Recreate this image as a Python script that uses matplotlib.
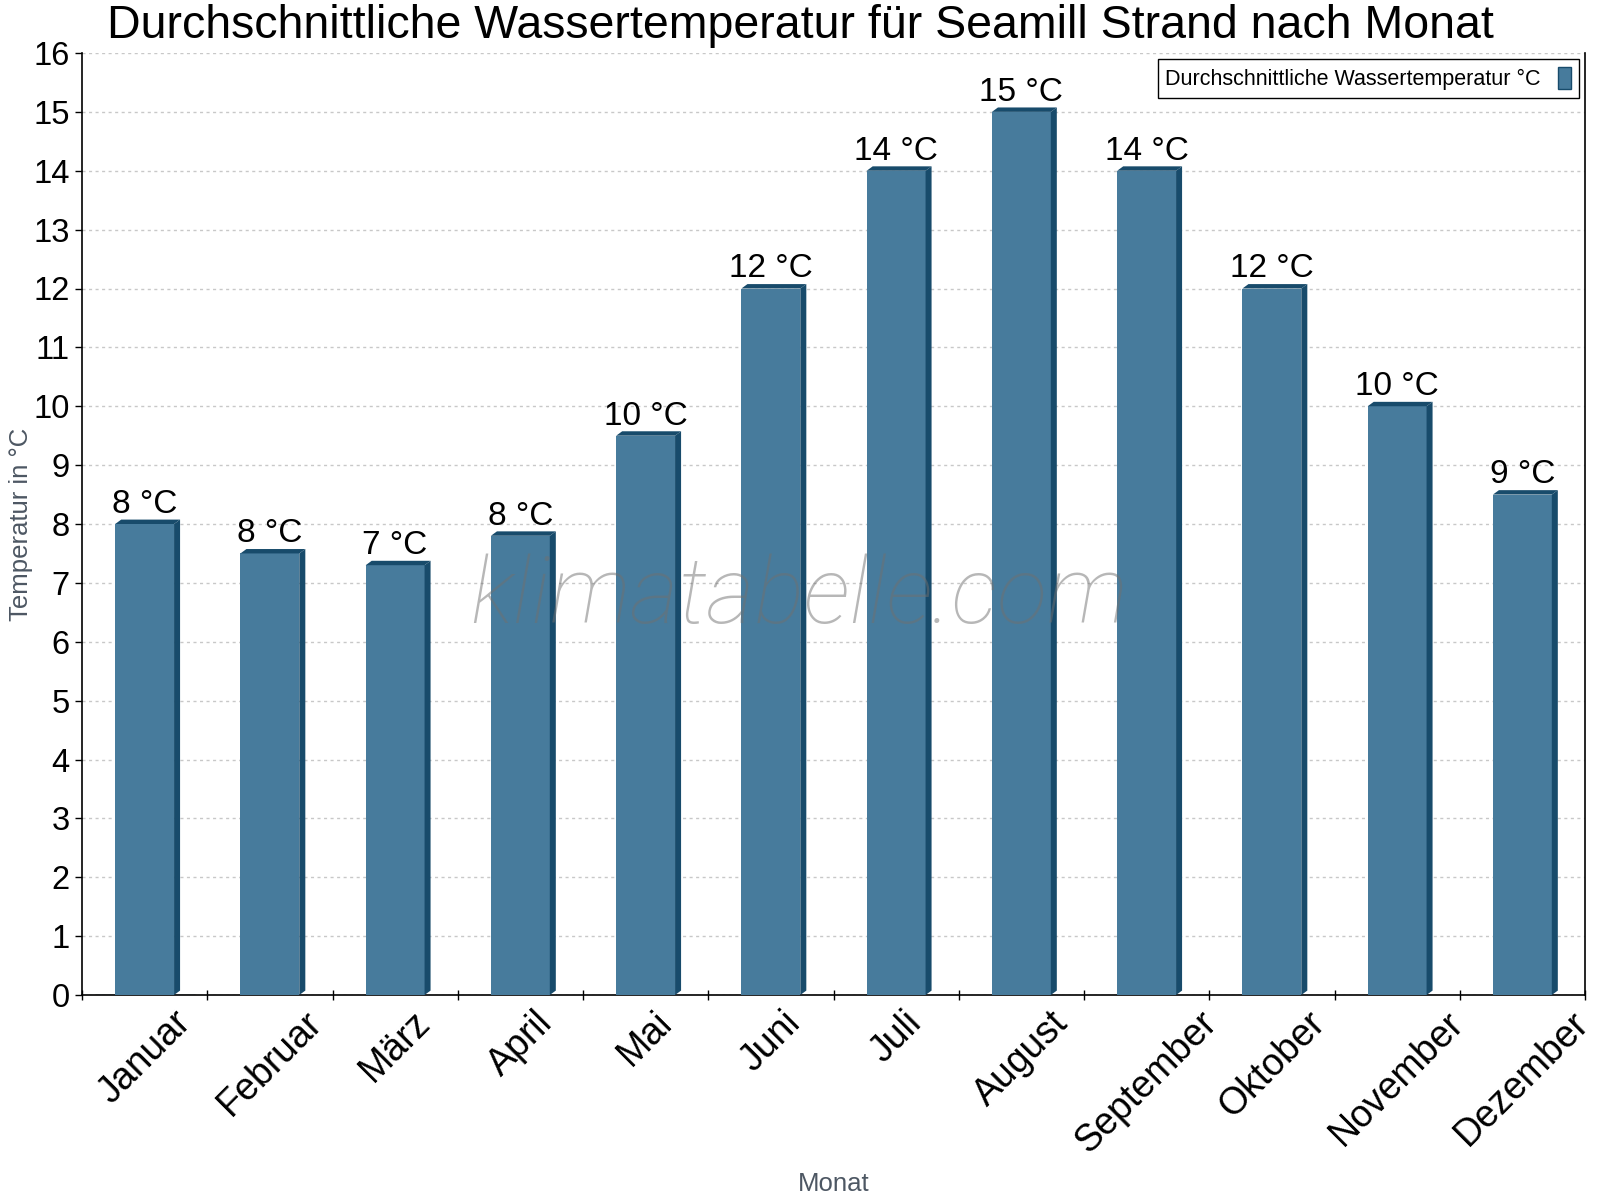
import math
import matplotlib
matplotlib.use("Agg")
import matplotlib.pyplot as plt

plt.rcParams['font.family'] = ['Liberation Sans', 'DejaVu Sans']

# data
months = ['Januar', 'Februar', 'März', 'April', 'Mai', 'Juni', 'Juli',
          'August', 'September', 'Oktober', 'November', 'Dezember']
water_temp = [8.0, 7.5, 7.3, 7.8, 9.5, 12.0, 14.0, 15.0, 14.0, 12.0, 10.0, 8.5]
y_ticks = list(range(0, 17))

title = 'Durchschnittliche Wassertemperatur für Seamill Strand nach Monat'
series_name = 'Durchschnittliche Wassertemperatur °C'

front_col = '#477b9c'
dark_col = '#184b6b'

fig = plt.figure(figsize=(16, 12), dpi=100)
ax = fig.add_axes([82 / 1600, 1 - 995 / 1200, (1585 - 82) / 1600, (995 - 53) / 1200])

ax.set_xlim(-0.5, len(months) - 0.5)
ax.set_ylim(0, 16)

# 3d-ish bars: front face + darker side and top
w = 0.47
ddx, ddy = 0.048, 0.075
for i, v in enumerate(water_temp):
    l, r = i - w / 2, i + w / 2
    ax.fill([l, r, r, l], [0, 0, v, v], color=front_col, lw=0, zorder=3)
    ax.fill([r, r + ddx, r + ddx, r], [0, ddy, v + ddy, v], color=dark_col, lw=0, zorder=3)
    ax.fill([l, l + ddx, r + ddx, r], [v, v + ddy, v + ddy, v], color=dark_col, lw=0, zorder=3)
    ax.annotate(f'{math.floor(v + 0.5)} °C', (i, v), xytext=(0, 8), textcoords='offset points',
                ha='center', va='baseline', fontsize=24, color='black', zorder=5)

# legend handle
ax.bar([0], [0], color=front_col, edgecolor=dark_col, linewidth=1, label=series_name)
leg = ax.legend(loc='upper right', bbox_to_anchor=(1, 1), borderaxespad=0.3,
                fontsize=15.5, markerfirst=False, fancybox=False, framealpha=1,
                edgecolor='black', handlelength=0.6, handleheight=1.2,
                handletextpad=0.8, borderpad=0.35)
leg.get_frame().set_linewidth(1)

ax.set_yticks(y_ticks)
ax.set_yticklabels([str(t) for t in y_ticks], fontsize=23.5)
ax.yaxis.grid(True, color='#c8c8c8', linestyle=(0, (2.2, 2.5)), linewidth=1)
ax.set_axisbelow(True)

ax.set_xticks(range(len(months)))
ax.set_xticklabels(months, fontsize=27, rotation=45, ha='center', va='top')
ax.set_xticks([k - 0.5 for k in range(len(months) + 1)], minor=True)
ax.tick_params(axis='x', which='major', length=0, pad=7)
ax.tick_params(axis='x', which='minor', length=7, direction='inout', width=1)
ax.tick_params(axis='y', length=5, width=1, pad=4)

ax.spines['top'].set_visible(False)
for s in ['left', 'bottom', 'right']:
    ax.spines[s].set_linewidth(1.2)
    ax.spines[s].set_color('black')

ax.set_ylabel('Temperatur in °C', fontsize=18.5, color='#4d5763')
ax.yaxis.set_label_coords(-(82 - 21) / 1503, 0.5)
ax.yaxis.label.set_va('center')
ax.set_xlabel('Monat', fontsize=18.5, color='#4d5763')
ax.xaxis.set_label_coords(0.5, -(1184 - 995) / 942)
ax.xaxis.label.set_va('center')

fig.text(0.5, 1 - 38 / 1200, title, ha='center', va='baseline', fontsize=33.5)

# watermark
fig.text(470 / 1600, 1 - 623 / 1200, 'klimatabelle.com', ha='left', va='baseline',
         fontsize=67, family='Roboto', style='italic', weight='light',
         color='#707070', alpha=0.5, zorder=10)

fig.savefig('out.png', dpi=100)
